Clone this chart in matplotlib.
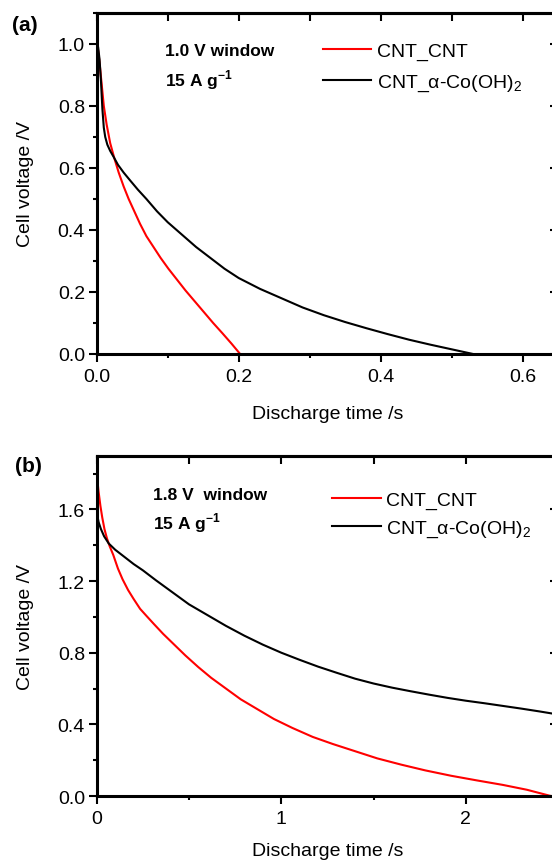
import matplotlib
matplotlib.use("Agg")
import matplotlib.pyplot as plt
from matplotlib.ticker import MultipleLocator, FormatStrFormatter

plt.rcParams['font.family'] = ['Liberation Sans', 'DejaVu Sans']
plt.rcParams['mathtext.fontset'] = 'custom'
plt.rcParams['mathtext.rm'] = 'Liberation Sans'
plt.rcParams['mathtext.bf'] = 'Liberation Sans:bold'

# panel (a): 1.0 V window
red_a_t = [0, 0.002, 0.004, 0.007, 0.010, 0.014, 0.019, 0.025, 0.031, 0.038,
           0.045, 0.053, 0.061, 0.070, 0.080, 0.090, 0.101, 0.113, 0.125,
           0.138, 0.151, 0.164, 0.177, 0.190, 0.202]
red_a_v = [0.99, 0.98, 0.94, 0.87, 0.80, 0.74, 0.68, 0.63, 0.585, 0.54,
           0.50, 0.46, 0.42, 0.38, 0.345, 0.31, 0.275, 0.24, 0.205,
           0.17, 0.135, 0.10, 0.067, 0.033, 0.0]
black_a_t = [0, 0.002, 0.004, 0.006, 0.008, 0.010, 0.012, 0.015, 0.019, 0.024,
             0.030, 0.038, 0.047, 0.058, 0.070, 0.085, 0.10, 0.12, 0.14, 0.16,
             0.18, 0.20, 0.23, 0.26, 0.29, 0.32, 0.35, 0.38, 0.41, 0.44, 0.47,
             0.50, 0.53]
black_a_v = [1.0, 0.99, 0.95, 0.88, 0.79, 0.73, 0.70, 0.675, 0.655, 0.635,
             0.61, 0.585, 0.56, 0.53, 0.50, 0.46, 0.425, 0.385, 0.345, 0.31,
             0.275, 0.245, 0.21, 0.18, 0.15, 0.125, 0.103, 0.083, 0.064, 0.046,
             0.03, 0.015, 0.0]

# panel (b): 1.8 V window
red_b_t = [0, 0.01, 0.02, 0.03, 0.042, 0.055, 0.07, 0.09, 0.115, 0.14, 0.17,
           0.2, 0.235, 0.27, 0.31, 0.36, 0.42, 0.48, 0.55, 0.62, 0.7, 0.78,
           0.87, 0.96, 1.06, 1.17, 1.28, 1.4, 1.52, 1.65, 1.78, 1.92, 2.06,
           2.2, 2.33, 2.46]
red_b_v = [1.80, 1.70, 1.62, 1.555, 1.49, 1.44, 1.395, 1.345, 1.27, 1.21, 1.15,
           1.10, 1.045, 1.005, 0.96, 0.905, 0.845, 0.785, 0.72, 0.66, 0.60, 0.54,
           0.485, 0.43, 0.38, 0.33, 0.29, 0.25, 0.21, 0.175, 0.143, 0.113, 0.087,
           0.062, 0.035, 0.0]
black_b_t = [0, 0.01, 0.023, 0.04, 0.065, 0.1, 0.15, 0.2, 0.25, 0.32, 0.4, 0.5,
             0.6, 0.7, 0.8, 0.9, 1.0, 1.1, 1.2, 1.3, 1.4, 1.5, 1.6, 1.7, 1.8,
             1.9, 2.0, 2.1, 2.2, 2.3, 2.4, 2.5]
black_b_v = [1.585, 1.53, 1.49, 1.45, 1.41, 1.375, 1.335, 1.295, 1.26, 1.205,
             1.145, 1.07, 1.01, 0.95, 0.895, 0.845, 0.80, 0.76, 0.722, 0.688,
             0.655, 0.628, 0.605, 0.585, 0.566, 0.548, 0.532, 0.518, 0.503,
             0.488, 0.472, 0.455]

labels = ['CNT_CNT', 'CNT_α-Co(OH)$_2$']
windows = ['1.0 V window', '1.8 V  window']
rate = r'15 A g$^{\mathbf{-1}}$'

fig = plt.figure(figsize=(5.52, 8.62), dpi=100)
ax_a = fig.add_axes([0.1752, 0.5882, 0.836, 0.3956])
ax_b = fig.add_axes([0.1752, 0.0754, 0.836, 0.3948])


def style_axes(ax, xmaj, xmin, ymaj, ymin):
    for s in ax.spines.values():
        s.set_linewidth(2.2)
    ax.xaxis.set_major_locator(MultipleLocator(xmaj))
    ax.xaxis.set_minor_locator(MultipleLocator(xmin))
    ax.yaxis.set_major_locator(MultipleLocator(ymaj))
    ax.yaxis.set_minor_locator(MultipleLocator(ymin))
    ax.tick_params(which='both', direction='out', width=1.5, labelsize=14,
                   top=False, right=False)
    ax.tick_params(which='major', length=5.5)
    ax.tick_params(axis='x', which='major', pad=4.5)
    ax.tick_params(axis='y', which='major', pad=3)
    ax.tick_params(which='minor', length=3)
    # mirrored inward ticks on top and right
    sec_x = ax.secondary_xaxis('top')
    sec_x.xaxis.set_major_locator(MultipleLocator(xmin))
    sec_x.tick_params(direction='in', length=5.5, width=1.5, labeltop=False)
    sec_x.spines['top'].set_linewidth(2.2)
    sec_y = ax.secondary_yaxis('right')
    sec_y.yaxis.set_major_locator(MultipleLocator(ymaj))
    sec_y.yaxis.set_minor_locator(MultipleLocator(ymin))
    sec_y.tick_params(which='major', direction='in', length=5.5, width=1.5,
                      labelright=False)
    sec_y.tick_params(which='minor', direction='in', length=3, width=1.5)
    sec_y.spines['right'].set_linewidth(2.2)


# (a)
ax_a.plot(red_a_t, red_a_v, color='#ff0000', lw=1.5, label=labels[0])
ax_a.plot(black_a_t, black_a_v, color='black', lw=1.5, label=labels[1])
ax_a.set_xlim(0, 0.65)
ax_a.set_ylim(0, 1.1)
style_axes(ax_a, 0.2, 0.1, 0.2, 0.1)
ax_a.xaxis.set_major_formatter(FormatStrFormatter('%.1f'))
ax_a.yaxis.set_major_formatter(FormatStrFormatter('%.1f'))
ax_a.set_xlabel('Discharge time /s', fontsize=14)
ax_a.set_ylabel('Cell voltage /V', fontsize=14)
ax_a.xaxis.set_label_coords(0.5, -0.150)
ax_a.yaxis.set_label_coords(-0.135, 0.5)
ax_a.text(0.148, 0.878, windows[0], transform=ax_a.transAxes, fontsize=12.5,
          fontweight='bold', va='baseline')
ax_a.text(0.148, 0.787, rate, transform=ax_a.transAxes, fontsize=12.5,
          fontweight='bold', va='baseline')
ax_a.legend(loc='upper left', bbox_to_anchor=(0.49, 0.915), frameon=False,
            fontsize=14, handlelength=2.5, handletextpad=0.28,
            labelspacing=0.65, borderaxespad=0, borderpad=0)

# (b)
ax_b.plot(red_b_t, red_b_v, color='#ff0000', lw=1.5, label=labels[0])
ax_b.plot(black_b_t, black_b_v, color='black', lw=1.5, label=labels[1])
ax_b.set_xlim(0, 2.5)
ax_b.set_ylim(0, 1.9)
style_axes(ax_b, 1, 0.5, 0.4, 0.2)
ax_b.yaxis.set_major_formatter(FormatStrFormatter('%.1f'))
ax_b.set_xlabel('Discharge time /s', fontsize=14)
ax_b.set_ylabel('Cell voltage /V', fontsize=14)
ax_b.xaxis.set_label_coords(0.5, -0.135)
ax_b.yaxis.set_label_coords(-0.135, 0.5)
ax_b.text(0.122, 0.872, windows[1], transform=ax_b.transAxes, fontsize=12.5,
          fontweight='bold', va='baseline')
ax_b.text(0.122, 0.785, rate, transform=ax_b.transAxes, fontsize=12.5,
          fontweight='bold', va='baseline')
ax_b.legend(loc='upper left', bbox_to_anchor=(0.51, 0.895), frameon=False,
            fontsize=14, handlelength=2.5, handletextpad=0.28,
            labelspacing=0.5, borderaxespad=0, borderpad=0)

fig.text(0.045, 0.970, '(a)', fontsize=15, fontweight='bold', ha='center', va='center')
fig.text(0.051, 0.459, '(b)', fontsize=15, fontweight='bold', ha='center', va='center')

fig.savefig('out.png', dpi=100)
